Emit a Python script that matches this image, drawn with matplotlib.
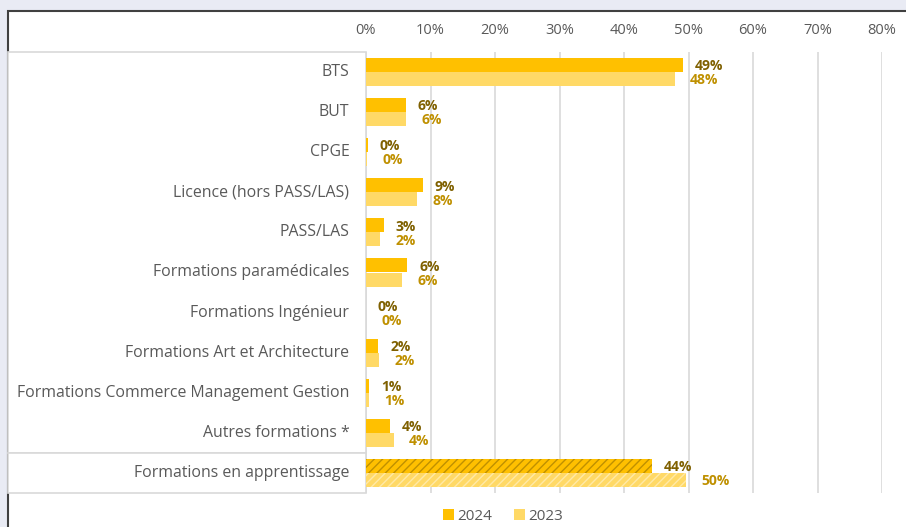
import numpy as np
import matplotlib.pyplot as plt
from matplotlib.patches import Rectangle, Patch

plt.rcParams['font.family'] = ['Open Sans', 'DejaVu Sans']
plt.rcParams['hatch.linewidth'] = 1.0

categories = ["BTS", "BUT", "CPGE", "Licence (hors PASS/LAS)", "PASS/LAS",
              "Formations paramédicales", "Formations Ingénieur",
              "Formations Art et Architecture",
              "Formations Commerce Management Gestion",
              "Autres formations *", "Formations en apprentissage"]
v2024 = [49.1, 6.2, 0.3, 8.8, 2.8, 6.4, 0.0, 1.9, 0.5, 3.7, 44.4]
v2023 = [47.9, 6.2, 0.2, 7.9, 2.2, 5.6, 0.0, 2.0, 0.5, 4.3, 49.6]
lab2024 = ["49%", "6%", "0%", "9%", "3%", "6%", "0%", "2%", "1%", "4%", "44%"]
lab2023 = ["48%", "6%", "0%", "8%", "2%", "6%", "0%", "2%", "1%", "4%", "50%"]
xticks = [0, 10, 20, 30, 40, 50, 60, 70, 80]

c24, c23 = "#FFC000", "#FFD966"
t24, t23 = "#7F6000", "#BF9000"
grey_txt = "#595959"

W, H = 906, 527
fig = plt.figure(figsize=(W / 100, H / 100), dpi=100)
fig.patch.set_facecolor("#E9EBF4")

# white chart panel with dark frame
fig.patches.append(Rectangle((7.5 / W, -0.1), 1, 1.1 - 10.5 / H, transform=fig.transFigure,
                             facecolor="white", edgecolor="#404040", linewidth=1.5, zorder=0))

top, bot = 52, 493
split = 453
# category boxes on the left
fig.patches.append(Rectangle((8 / W, 1 - split / H), (366 - 8) / W, (split - top) / H,
                             transform=fig.transFigure, facecolor="white",
                             edgecolor="#D9D9D9", linewidth=1.2, zorder=1))
fig.patches.append(Rectangle((8 / W, 1 - bot / H), (366 - 8) / W, (bot - split) / H,
                             transform=fig.transFigure, facecolor="white",
                             edgecolor="#D9D9D9", linewidth=1.2, zorder=1))

ax = fig.add_axes([366 / W, 1 - bot / H, (882 - 366) / W, (bot - top) / H])
ax.set_facecolor("none")
ax.set_zorder(5)

y = np.arange(len(categories))
h = 0.35
n = len(categories)
for i in range(n):
    last = i == n - 1
    ax.barh(y[i] - h / 2, v2024[i], height=h, color=c24,
            edgecolor="#BF9000" if last else c24, linewidth=0,
            hatch="////" if last else None, zorder=3)
    ax.barh(y[i] + h / 2, v2023[i], height=h, color=c23,
            edgecolor="#FFE9A6" if last else c23, linewidth=0,
            hatch="////" if last else None, zorder=3)
    ax.annotate(lab2024[i], (v2024[i], y[i] - h / 2 + 0.03), xytext=(8.5, 0),
                textcoords="offset points", ha="left", va="center",
                fontsize=10, fontweight="bold", color=t24, zorder=4)
    ax.annotate(lab2023[i], (v2023[i], y[i] + h / 2 + 0.03), xytext=(11, 0),
                textcoords="offset points", ha="left", va="center",
                fontsize=10, fontweight="bold", color=t23, zorder=4)

ax.set_xlim(0, 80)
ax.set_ylim(n - 0.5, -0.5)
ax.set_xticks(xticks)
ax.set_xticklabels([f"{t}%" for t in xticks], fontsize=10.5, color=grey_txt)
ax.xaxis.tick_top()
ax.tick_params(axis="x", length=0, pad=10)
ax.set_yticks([])
ax.grid(axis="x", color="#D9D9D9", linewidth=1.2, zorder=0)
for s in ax.spines.values():
    s.set_visible(False)

for i, c in enumerate(categories):
    ax.annotate(c, (0, y[i]), xytext=(-12, 0), textcoords="offset points",
                ha="right", va="center", fontsize=11.4, color=grey_txt,
                annotation_clip=False)

handles = [Patch(facecolor=c24, label="2024"), Patch(facecolor=c23, label="2023")]
fig.legend(handles=handles, loc="center", bbox_to_anchor=(503 / W, 1 - 516 / H),
           ncol=2, frameon=False, fontsize=11, handlelength=0.75, handleheight=0.75,
           handletextpad=0.2, columnspacing=1.4, labelcolor=grey_txt)

fig.savefig("out.png", dpi=100)
